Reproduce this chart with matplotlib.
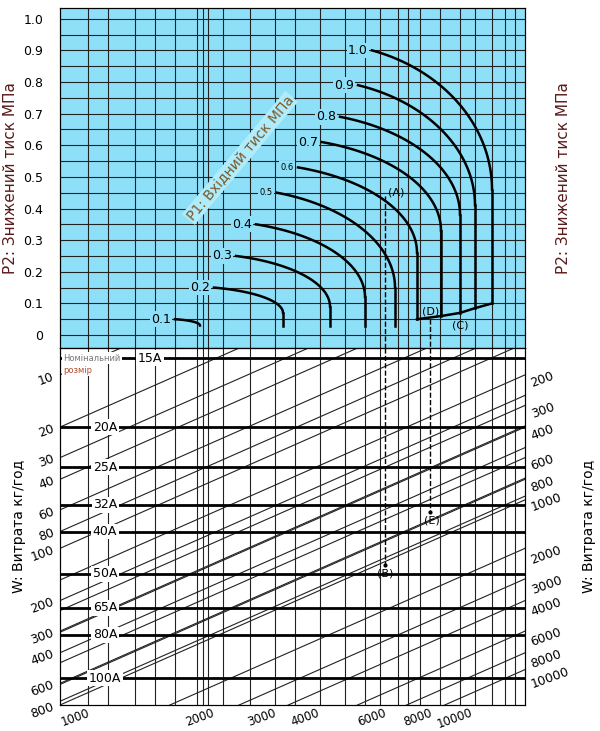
import numpy as np
import matplotlib.pyplot as plt

# P1 curves: label, start (x, P2), end of arc (x, P2), foot of vertical (P2)
p1_labels = ['0.1', '0.2', '0.3', '0.4', '0.5', '0.6', '0.7', '0.8', '0.9', '1.0']
p1_start_x = [175, 214, 236, 256, 277, 298, 322, 340, 358, 372]
p1_start_y = [0.05, 0.15, 0.25, 0.35, 0.45, 0.53, 0.61, 0.69, 0.79, 0.90]
p1_end_x = [200, 283, 330, 365, 395, 417, 441, 460, 475, 492]
p1_end_y = [0.03, 0.07, 0.09, 0.12, 0.15, 0.26, 0.33, 0.38, 0.41, 0.46]
p1_foot_y = [0.03, 0.03, 0.03, 0.03, 0.03, 0.05, 0.06, 0.07, 0.085, 0.10]

curve_c_x = [417, 441, 460, 475, 492]
curve_c_y = [0.05, 0.06, 0.07, 0.085, 0.10]

grid_x = [88, 108, 135, 155, 175, 197, 203, 208, 223, 250, 275, 295, 320,
          345, 365, 380, 398, 408, 420, 440, 460, 475, 492, 505, 515]

sizes = ['15A', '20A', '25A', '32A', '40A', '50A', '65A', '80A', '100A']
size_w = [8.0, 20, 34, 56, 80, 140, 220, 315, 560]

left_w = [10, 20, 30, 40, 60, 80, 100, 200, 300, 400, 600, 800]
right_w = [200, 300, 400, 600, 800, 1000, 2000, 3000, 4000, 6000, 8000, 10000]
bottom_lbl = ['1000', '2000', '3000', '4000', '6000', '8000', '10000']
bottom_x = [75, 200, 262, 305, 372, 418, 455]

blue = '#8ee0f8'
red = '#5a1a1a'
X0, X1 = 60, 525
W_TOP, W_BOT = 7.0, 800.0
RIGHT_K = 20.0            # right W scale = left scale * 20
SLOPE = 0.44 / 173        # decades per px of the diagonals

fig = plt.figure(figsize=(6, 7.31), dpi=100)
H = 731
axt = fig.add_axes([X0 / 600, 1 - 348 / H, (X1 - X0) / 600, 340 / H])
axb = fig.add_axes([X0 / 600, 1 - 705 / H, (X1 - X0) / 600, 357 / H])

# ---- top panel
axt.set_facecolor(blue)
axt.set_xlim(X0, X1)
axt.set_ylim(-0.041, 1.034)
for y in np.arange(0, 1.01, 0.05):
    axt.axhline(y, color='#222', lw=0.8)
for x in grid_x:
    axt.axvline(x, color='#222', lw=0.8)
axt.set_xticks([])
ticks = np.round(np.arange(0, 1.01, 0.1), 1)
axt.set_yticks(ticks)
axt.set_yticklabels(['0'] + ['%.1f' % t for t in ticks[1:]], fontsize=9)
axt.tick_params(axis='y', length=0, pad=12, labelright=True)
axt.set_ylabel('P2: Знижений тиск МПа', color=red, fontsize=11, labelpad=4)
rt = axt.twinx()
rt.set_ylim(axt.get_ylim())
rt.set_yticks([])
rt.set_ylabel('P2: Знижений тиск МПа', color=red, fontsize=11, labelpad=22)

for i, lab in enumerate(p1_labels):
    xs, ys, xe, ye = p1_start_x[i], p1_start_y[i], p1_end_x[i], p1_end_y[i]
    cx = xs - 0.45 * (xe - xs)
    a = xe - cx
    t0 = np.arccos((xs - cx) / a)
    b = (ys - ye) / np.sin(t0)
    t = np.linspace(t0, 0, 60)
    axt.plot(cx + a * np.cos(t), ye + b * np.sin(t), color='k', lw=1.8)
    axt.plot([xe, xe], [ye, p1_foot_y[i]], color='k', lw=1.8)
    fs = 6 if lab in ('0.5', '0.6') else 9
    axt.text(xs - 4, ys, lab, ha='right', va='center', fontsize=fs,
             bbox=dict(fc=blue, ec='none', pad=1))
axt.plot(curve_c_x, curve_c_y, color='k', lw=1.8)
axt.text(240, 0.56, 'P1: Вхідний тиск МПа', rotation=50, ha='center', va='center',
         fontsize=10, color='#7a5a2a', bbox=dict(fc='#b0ecfc', ec='none', pad=1))
axt.plot([385, 385], [0.44, -0.05], 'k--', lw=1, clip_on=False)
axt.plot([430, 430], [0.05, -0.05], 'k--', lw=1, clip_on=False)
axt.text(388, 0.435, '(A)', fontsize=8, va='bottom')
axt.text(422, 0.06, '(D)', fontsize=8, va='bottom')
axt.text(452, 0.03, '(C)', fontsize=8, va='center')

# ---- bottom panel
axb.set_xlim(X0, X1)
axb.set_yscale('log')
axb.set_ylim(W_BOT, W_TOP)
for x in grid_x:
    axb.axvline(x, color='#222', lw=0.8)
xx = np.array([X0, X1])
for w in left_w:
    axb.plot(xx, w * 10 ** (-SLOPE * (xx - X0)), color='#222', lw=0.8)
for w in right_w:
    axb.plot(xx, w / RIGHT_K * 10 ** (-SLOPE * (xx - X1)), color='#222', lw=0.8)
for s, w in zip(sizes, size_w):
    axb.axhline(w, color='k', lw=2)
    axb.text(150 if s == '15A' else 105, w, s, ha='center', va='center',
             fontsize=9, bbox=dict(fc='white', ec='none', pad=1))
axb.text(63, 8.0, 'Номінальний', fontsize=6, color='#777', va='center',
         bbox=dict(fc='white', ec='none', pad=1))
axb.text(63, 9.4, 'розмір', fontsize=6, color='#b05030', va='center',
         bbox=dict(fc='white', ec='none', pad=1))
axb.plot([385, 385], [W_TOP, 125], 'k--', lw=1)
axb.plot(385, 125, 'k.', ms=4)
axb.text(385, 145, '(B)', fontsize=8, ha='center')
axb.plot([430, 430], [W_TOP, 62], 'k--', lw=1)
axb.plot(430, 62, 'k.', ms=4)
axb.text(432, 72, '(E)', fontsize=8, ha='center')

axb.minorticks_off()
axb.set_yticks(left_w)
axb.set_yticklabels([str(w) for w in left_w], rotation=20, fontsize=9)
axb.tick_params(axis='y', length=0, pad=3)
axb.set_ylabel('W: Витрата кг/год', fontsize=10, labelpad=2)
rb = axb.twinx()
rb.set_yscale('log')
rb.set_ylim(W_BOT * RIGHT_K, W_TOP * RIGHT_K)
rb.minorticks_off()
rb.set_yticks(right_w)
rb.set_yticklabels([str(w) for w in right_w], rotation=20, fontsize=9)
rb.tick_params(axis='y', length=0, pad=3)
rb.set_ylabel('W: Витрата кг/год', fontsize=10, labelpad=8)
axb.set_xticks(bottom_x)
axb.set_xticklabels(bottom_lbl, rotation=20, fontsize=8.5)
axb.tick_params(axis='x', length=0, pad=1)

fig.savefig('out.png', dpi=100)
